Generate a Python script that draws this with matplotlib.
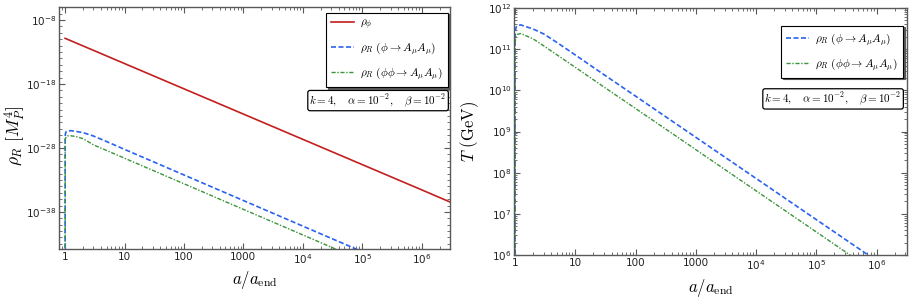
import numpy as np
import matplotlib
matplotlib.use("Agg")
import matplotlib.pyplot as plt
from matplotlib.ticker import LogLocator, FixedLocator, FixedFormatter, NullFormatter

plt.rcParams['mathtext.fontset'] = 'cm'
plt.rcParams['font.family'] = 'DejaVu Sans'

# scale factor grid (a/a_end)
a_vals = [1.0, 1.003, 1.01, 1.04, 1.1, 1.25, 1.5, 2.0, 3.0, 5.0, 10.0, 30.0,
          100.0, 1e3, 1e4, 1e5, 1e6, 3e6]

# log10 of energy densities [M_P^4]
log_rho_phi_a = [1.0, 10.0, 100.0, 1e3, 1e4, 1e5, 1e6, 3e6]
log_rho_phi = [-10.85, -14.8, -18.75, -22.7, -26.65, -30.6, -34.55, -36.45]
log_rho_R1 = [-60.0, -26.7, -25.8, -25.45, -25.33, -25.3, -25.4, -25.6, -26.13,
              -27.0, -28.22, -30.13, -32.22, -36.22, -40.22, -44.22, -48.22, -50.13]
log_rho_R2 = [-60.0, -27.5, -26.6, -26.25, -26.12, -26.1, -26.2, -26.55, -27.51,
              -28.4, -29.6, -31.51, -33.6, -37.6, -41.6, -45.6, -49.6, -51.5]

# log10 of temperature [GeV]
log_T1 = [3.0, 11.15, 11.41, 11.53, 11.57, 11.59, 11.55, 11.49, 11.37,
          11.16, 10.86, 10.38, 9.86, 8.86, 7.86, 6.86, 5.86, 5.38]
log_T2 = [3.0, 10.95, 11.18, 11.31, 11.36, 11.38, 11.33, 11.25, 11.08,
          10.86, 10.56, 10.08, 9.56, 8.56, 7.56, 6.56, 5.56, 5.08]

lab_phi = r"$\rho_\phi$"
lab_1 = r"$\rho_R\ (\phi \rightarrow A_\mu A_\mu)$"
lab_2 = r"$\rho_R\ (\phi\phi \rightarrow A_\mu A_\mu)$"
param_text = r"$k=4,\ \ \ \alpha=10^{-2},\ \ \ \beta=10^{-2}$"

RED = "#c41e1e"
BLUE = "#2a62f0"
GREEN = "#3a943a"
FRAME = "0.35"

xt_pos = [1, 10, 100, 1000, 1e4, 1e5, 1e6]
xt_lab = ["1", "10", "100", "1000", r"$10^{4}$", r"$10^{5}$", r"$10^{6}$"]

LEG_KW = dict(borderaxespad=0, fontsize=8.2, handlelength=2.0, handletextpad=0.55,
              labelspacing=0.7, borderpad=0.45, fancybox=False, edgecolor="black",
              shadow={"ox": 1.2, "oy": -1.2, "color": "0.35", "alpha": 1.0})
BOX_KW = dict(boxstyle="round,pad=0.15,rounding_size=0.2", fc="white", ec="black", lw=0.9)


def style_axis(ax):
    for s in ax.spines.values():
        s.set_color(FRAME)
        s.set_linewidth(1.0)
    ax.tick_params(which="both", direction="in", top=True, right=True,
                   colors=FRAME, labelcolor="#222222", labelsize=7.5, pad=2)
    ax.tick_params(which="major", length=4, width=0.8)
    ax.tick_params(which="minor", length=2, width=0.6)
    ax.xaxis.set_major_locator(FixedLocator(xt_pos))
    ax.xaxis.set_major_formatter(FixedFormatter(xt_lab))
    ax.xaxis.set_minor_locator(LogLocator(base=10, subs=np.arange(2, 10), numticks=20))
    ax.xaxis.set_minor_formatter(NullFormatter())


fig = plt.figure(figsize=(9.1, 3.0), dpi=100)
ax1 = fig.add_axes([0.0652, 0.169, 0.4293, 0.8067])
ax2 = fig.add_axes([0.5652, 0.150, 0.4315, 0.8233])

# ---- left: energy densities
a_arr = np.array(a_vals)
ax1.plot(log_rho_phi_a, 10.0 ** np.array(log_rho_phi), color=RED, lw=1.2, label=lab_phi)
ax1.plot(a_arr, 10.0 ** np.array(log_rho_R1), color=BLUE, lw=1.2, ls=(0, (3, 1.5)), label=lab_1)
ax1.plot(a_arr, 10.0 ** np.array(log_rho_R2), color=GREEN, lw=1.0, ls=(0, (3, 1.2, 1, 1.2)), label=lab_2)
ax1.set_xscale("log")
ax1.set_yscale("log")
ax1.set_xlim(0.8, 3e6)
ax1.set_ylim(10 ** -43.85, 1e-6)
style_axis(ax1)
ax1.yaxis.set_major_locator(FixedLocator([1e-8, 1e-18, 1e-28, 1e-38]))
ax1.yaxis.set_major_formatter(FixedFormatter([r"$10^{-8}$", r"$10^{-18}$", r"$10^{-28}$", r"$10^{-38}$"]))
ax1.yaxis.set_minor_locator(FixedLocator([10.0 ** k for k in range(-44, -5)]))
ax1.yaxis.set_minor_formatter(NullFormatter())
ax1.set_xlabel(r"$a/a_{\rm end}$", fontsize=12, labelpad=2)
ax1.set_ylabel(r"$\rho_R\ [M_{P}^4]$", fontsize=12.5)
ax1.yaxis.set_label_coords(-0.083, 0.47)
leg1 = ax1.legend(loc="upper right", bbox_to_anchor=(0.995, 0.978), **LEG_KW)
leg1.get_frame().set_linewidth(0.8)
ax1.text(0.9915, 0.6145, param_text, transform=ax1.transAxes, ha="right", va="center",
         fontsize=8, bbox=BOX_KW)

# ---- right: temperatures
ax2.plot(a_arr, 10.0 ** np.array(log_T1), color=BLUE, lw=1.2, ls=(0, (3, 1.5)), label=lab_1)
ax2.plot(a_arr, 10.0 ** np.array(log_T2), color=GREEN, lw=1.0, ls=(0, (3, 1.2, 1, 1.2)), label=lab_2)
ax2.set_xscale("log")
ax2.set_yscale("log")
ax2.set_xlim(0.975, 3.2e6)
ax2.set_ylim(1e6, 1e12)
style_axis(ax2)
ax2.yaxis.set_major_locator(FixedLocator([10.0 ** k for k in range(6, 13)]))
ax2.yaxis.set_major_formatter(FixedFormatter([r"$10^{%d}$" % k for k in range(6, 13)]))
ax2.yaxis.set_minor_locator(LogLocator(base=10, subs=np.arange(2, 10), numticks=20))
ax2.yaxis.set_minor_formatter(NullFormatter())
ax2.set_xlabel(r"$a/a_{\rm end}$", fontsize=12, labelpad=4)
ax2.set_ylabel(r"$T\ \rm (GeV)$", fontsize=12, labelpad=5)
leg2 = ax2.legend(loc="upper right", bbox_to_anchor=(0.99, 0.928), **LEG_KW)
leg2.get_frame().set_linewidth(0.8)
ax2.text(0.9865, 0.632, param_text, transform=ax2.transAxes, ha="right", va="center",
         fontsize=8, bbox=BOX_KW)

# tick labels: sans-serif math, like the original
for ax in (ax1, ax2):
    for t in ax.get_xticklabels() + ax.get_yticklabels():
        t.set_math_fontfamily("dejavusans")

fig.savefig("out.png", dpi=100)
